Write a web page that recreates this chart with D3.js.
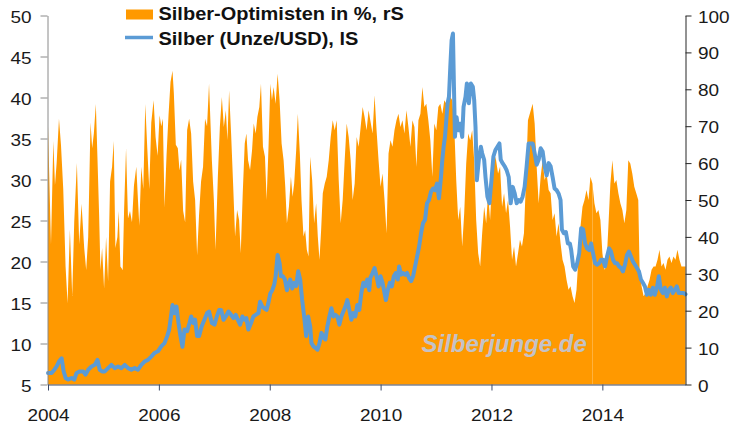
<!DOCTYPE html>
<html><head><meta charset="utf-8">
<script src="https://cdnjs.cloudflare.com/ajax/libs/d3/7.8.5/d3.min.js"></script>
<style>
html,body{margin:0;padding:0;background:#fff;}
svg{display:block;font-family:"Liberation Sans",Arial,sans-serif;}
</style></head><body>
<svg id="chart" width="730" height="427"></svg>
<script>
// ---------- data ----------
const yearTicks = [2004, 2006, 2008, 2010, 2012, 2014];
const leftTicks = [5, 10, 15, 20, 25, 30, 35, 40, 45, 50];
const rightTicks = [0, 10, 20, 30, 40, 50, 60, 70, 80, 90, 100];
const legendLabels = ["Silber-Optimisten in %, rS", "Silber (Unze/USD), lS"];
const watermark = "Silberjunge.de";
const seamYear = 2013.821;

// Silber-Optimisten in % (right scale): [decimal year, percent]
const optimists = [
[2004.0,70],[2004.054,38],[2004.096,66],[2004.126,54],[2004.156,60],[2004.198,72],[2004.234,65],[2004.275,53],[2004.317,32],[2004.353,22],
[2004.395,42],[2004.437,24],[2004.473,44],[2004.521,60],[2004.563,38],[2004.605,49],[2004.653,37],[2004.689,31],[2004.725,40],[2004.767,71],
[2004.797,64],[2004.827,68],[2004.863,76],[2004.893,61],[2004.922,46],[2004.946,31],[2004.976,37],[2005.012,26],[2005.048,40],[2005.084,28],
[2005.12,55],[2005.156,59],[2005.186,66],[2005.216,37],[2005.252,40],[2005.276,47],[2005.306,32],[2005.348,31],[2005.372,47],[2005.408,64],
[2005.443,45],[2005.479,47],[2005.515,44],[2005.551,54],[2005.593,59],[2005.623,50],[2005.647,43],[2005.683,59],[2005.719,53],[2005.755,76],
[2005.791,64],[2005.827,53],[2005.863,71],[2005.905,77],[2005.941,67],[2005.977,62],[2006.013,73],[2006.043,70],[2006.072,72],[2006.102,48],
[2006.138,62],[2006.174,73],[2006.21,82],[2006.246,85],[2006.27,79],[2006.306,65],[2006.342,64],[2006.372,58],[2006.402,61],[2006.438,47],
[2006.474,44],[2006.51,69],[2006.546,72],[2006.582,68],[2006.618,55],[2006.654,50],[2006.69,35],[2006.725,46],[2006.761,55],[2006.797,59],
[2006.833,72],[2006.869,70],[2006.905,81.5],
[2006.956,60.8],[2006.992,50],[2007.022,36.5],[2007.064,56.3],[2007.1,69.8],[2007.136,77.9],[2007.172,69.8],[2007.208,74.3],[2007.237,66.2],
[2007.267,79.7],[2007.303,68],[2007.339,54.5],[2007.375,40.1],[2007.411,47.3],[2007.447,44.6],[2007.477,35.6],[2007.513,51.8],[2007.549,65.3],
[2007.579,68],[2007.609,60.8],[2007.645,58.1],[2007.681,63.5],[2007.711,70.7],[2007.747,68],[2007.777,72.5],[2007.812,75.2],[2007.842,81.5],
[2007.878,64.4],[2007.914,61.7],[2007.944,50],[2007.98,65.3],[2008.01,81.5],[2008.04,77],[2008.07,80.6],[2008.106,76.1],[2008.142,84.2],
[2008.178,77],[2008.214,65.3],[2008.25,60.8],[2008.28,53.6],[2008.31,43.7],[2008.346,48.2],[2008.382,56.3],[2008.412,50.9],[2008.441,54.5],
[2008.477,63.5],[2008.507,73.4],[2008.543,62.6],[2008.573,50],[2008.609,40.1],[2008.639,41.9],[2008.669,36.5],[2008.699,34.7],[2008.729,61.7],
[2008.765,55.4],[2008.801,43.7],[2008.837,49.1],[2008.867,40.1],[2008.897,33.8],[2008.927,41.9],[2008.957,51.8],[2008.993,54.5],[2009.028,56.3],
[2009.064,60.8],[2009.1,67.1],[2009.136,71.6],[2009.172,68.9],[2009.208,71.6],[2009.244,55.4],[2009.28,43.7],[2009.316,50],[2009.352,60.8],
[2009.388,70.7],[2009.424,67.1],[2009.46,60.8],[2009.496,50],[2009.532,54.5],[2009.568,67.1],[2009.604,64.4],[2009.64,69.8],[2009.676,75.2],
[2009.711,72.5],[2009.747,68.9],[2009.783,74.3],
[2009.855,68],[2009.891,78.4],[2009.927,68.9],[2009.963,60.8],[2009.999,53.6],[2010.035,57.2],[2010.071,50],[2010.107,41],[2010.143,62.6],
[2010.179,66.2],[2010.214,64.4],[2010.25,68.9],[2010.286,71.6],[2010.322,73.4],[2010.358,69.8],[2010.394,71.6],[2010.43,68],[2010.466,74.3],
[2010.502,69.8],[2010.538,64.4],[2010.574,71.6],[2010.61,69.8],[2010.646,59],[2010.682,71.6],[2010.718,73.4],[2010.754,80.6],[2010.789,75.2],
[2010.825,76.1],[2010.861,71.6],[2010.897,66.2],[2010.933,56.3],[2010.969,70.7],[2011.005,68.9],[2011.041,75.2],[2011.077,76.1],[2011.113,73.4],
[2011.149,77],[2011.185,76.1],[2011.221,77],[2011.257,77.9],[2011.293,77],[2011.329,69.8],[2011.364,55.4],[2011.4,44.6],[2011.436,48.2],
[2011.472,37.4],[2011.508,46.4],[2011.544,59.9],[2011.58,68],[2011.616,66.2],[2011.652,68.9],[2011.688,60.8],[2011.724,44.6],[2011.76,35.6],
[2011.796,32],[2011.832,41],[2011.868,48.2],[2011.904,43.7],[2011.939,51.8],[2011.975,44.6],[2012.011,55.4],[2012.047,62.6],[2012.083,60.8],
[2012.119,57.2],[2012.155,59],[2012.191,48.2],[2012.227,51.8],[2012.263,46.4],[2012.299,50],[2012.335,42.8],[2012.371,33.8],[2012.407,37.4],
[2012.443,32],[2012.479,35.6],[2012.514,39.2],[2012.55,37.4],[2012.586,41],[2012.622,55.4],[2012.658,71.6],
[2012.743,76.1],[2012.779,70.7],[2012.815,59],[2012.851,49.1],[2012.887,56.3],[2012.923,60.8],[2012.959,55.4],[2012.995,57.2],[2013.031,52.7],
[2013.067,51.8],[2013.102,44.6],[2013.138,46.4],[2013.174,40.1],[2013.21,43.7],[2013.246,38.3],[2013.282,33.8],[2013.318,32],[2013.354,28.4],
[2013.39,25.7],[2013.426,26.6],[2013.462,23.9],[2013.498,22.1],[2013.534,25.7],[2013.57,34.7],[2013.606,42.8],[2013.642,48.2],[2013.678,50],
[2013.714,52.7],[2013.75,50],[2013.785,56.3],[2013.821,54.5],[2013.857,49.1],[2013.893,46.4],[2013.929,47.3],[2013.965,44.6],[2014.001,35.6],
[2014.037,31.1],[2014.073,32],[2014.109,42.8],[2014.145,54.5],[2014.181,60.8],[2014.217,54.5],[2014.253,55.4],[2014.289,51.8],[2014.325,49.1],
[2014.361,47.3],[2014.397,43.7],[2014.433,47.3],[2014.468,60.8],[2014.504,59.9],[2014.54,57.2],[2014.576,53.6],[2014.612,51.8],[2014.648,50],
[2014.672,31.1],[2014.708,26.6],[2014.744,23.9],[2014.78,24.8],[2014.816,26.6],[2014.852,28.4],[2014.888,31.1],[2014.924,32],[2014.96,32],
[2014.995,33.8],[2015.031,36.5],[2015.067,32],[2015.103,32.9],[2015.139,31.1],[2015.175,33.8],[2015.211,34.7],[2015.247,32.9],[2015.283,34.7],
[2015.319,33.8],[2015.355,36.5],[2015.391,33.8],[2015.427,32],[2015.463,32],[2015.5,32]
];

// Silber (Unze/USD) (left scale): [decimal year, USD]
const silver = [
[2004.0,6.4],[2004.066,6.4],[2004.114,6.8],[2004.156,7.2],[2004.198,7.8],[2004.246,8.2],[2004.282,6.6],[2004.318,5.8],[2004.365,5.6],[2004.425,5.8],
[2004.473,5.6],[2004.515,6.4],[2004.575,6.6],[2004.635,6.6],[2004.677,6.2],[2004.725,6.8],[2004.785,7.2],[2004.845,7.4],[2004.893,8.0],[2004.934,6.8],
[2004.976,6.6],[2005.024,6.6],[2005.084,7.0],[2005.144,7.4],[2005.204,7.0],[2005.264,7.2],[2005.324,7.0],[2005.384,7.4],[2005.444,7.0],[2005.504,6.8],
[2005.563,7.0],[2005.623,6.8],[2005.683,7.4],[2005.743,7.8],[2005.803,8.0],[2005.863,8.4],[2005.923,8.85],[2005.983,9.05],[2006.043,9.65],[2006.102,10.05],
[2006.15,10.9],[2006.186,11.7],[2006.21,12.9],[2006.246,14.7],[2006.282,13.7],[2006.318,14.5],[2006.354,12.5],[2006.39,10.9],[2006.426,9.6],[2006.462,11.7],
[2006.51,11.5],[2006.552,12.5],[2006.582,13.3],[2006.618,12.5],[2006.654,12.9],[2006.689,10.9],[2006.725,10.9],[2006.773,12.1],[2006.821,12.9],[2006.869,13.7],
[2006.905,13.9],
[2006.956,12.5],[2007.004,12.3],[2007.046,13.3],[2007.088,14.1],[2007.124,14.1],[2007.166,12.9],[2007.208,13.3],[2007.255,13.9],[2007.303,13.5],
[2007.345,13.1],[2007.387,13.5],[2007.423,12.9],[2007.465,12.3],[2007.507,13.3],[2007.543,12.9],[2007.579,13.1],[2007.615,11.7],[2007.663,12.5],
[2007.705,13.3],[2007.747,13.5],[2007.795,13.7],[2007.825,15.1],[2007.866,14.5],[2007.902,14.3],[2007.944,14.1],[2007.974,14.9],[2008.01,16.1],
[2008.046,16.5],[2008.082,17.2],[2008.106,18.2],[2008.142,20.8],[2008.178,19.8],[2008.202,18.2],[2008.238,18.2],[2008.274,17.8],[2008.31,16.5],
[2008.346,17.4],[2008.37,17.8],[2008.406,16.7],[2008.442,17.4],[2008.477,17.0],[2008.513,18.8],[2008.549,17.8],[2008.585,15.3],[2008.621,13.3],
[2008.657,10.9],[2008.693,13.3],[2008.729,12.1],[2008.753,10.05],[2008.789,9.65],[2008.825,9.45],[2008.861,9.25],[2008.897,10.05],[2008.933,11.3],
[2008.969,10.7],[2009.005,10.5],[2009.04,12.1],[2009.076,13.3],[2009.112,14.3],[2009.148,13.3],[2009.184,13.5],[2009.22,13.3],[2009.256,12.3],
[2009.292,13.3],[2009.328,13.9],[2009.364,14.5],[2009.4,15.3],[2009.436,14.1],[2009.472,12.9],[2009.508,13.7],[2009.544,13.3],[2009.58,14.7],
[2009.616,14.1],[2009.651,16.1],[2009.687,17.4],[2009.723,17.0],[2009.759,17.8],[2009.795,16.5],
[2009.813,17.97],[2009.855,18.6],[2009.891,19.2],[2009.927,18.2],[2009.963,16.96],[2009.999,18.2],[2010.035,17.4],[2010.071,16.15],[2010.095,15.3],
[2010.131,16.55],[2010.167,17.4],[2010.203,16.96],[2010.238,18.2],[2010.274,18.6],[2010.31,17.8],[2010.334,19.4],[2010.37,18.4],[2010.406,18.6],
[2010.442,18.4],[2010.478,18.6],[2010.514,17.97],[2010.55,17.6],[2010.586,18.2],[2010.622,19.4],[2010.658,20.6],[2010.694,21.8],[2010.73,23.45],
[2010.766,24.7],[2010.802,25.1],[2010.837,27.1],[2010.873,27.5],[2010.909,28.5],[2010.945,28.9],[2010.981,28.7],[2011.017,29.5],[2011.053,27.7],
[2011.089,30.3],[2011.113,32.4],[2011.137,34],[2011.161,35.2],[2011.185,37.2],[2011.209,39.3],[2011.233,40.1],[2011.257,43.7],[2011.281,47],
[2011.305,47.8],[2011.323,41.3],[2011.341,35.2],[2011.371,37.6],[2011.4,36],[2011.436,36.8],[2011.472,35.2],[2011.496,38.85],[2011.532,40.1],
[2011.556,41.7],[2011.592,39.3],[2011.628,41.7],[2011.664,41.3],[2011.688,39.7],[2011.712,36.4],[2011.736,29.9],[2011.772,32.4],[2011.808,34],
[2011.832,33.2],[2011.868,32.4],[2011.892,30.3],[2011.927,27.9],[2011.963,27.1],[2011.999,29.9],[2012.035,32.8],[2012.071,33.6],[2012.107,34],
[2012.143,34.4],[2012.167,32.4],[2012.203,31.96],[2012.239,31.6],[2012.275,31.1],[2012.311,30.3],[2012.347,27.1],[2012.383,29.1],[2012.419,28.3],
[2012.455,27.1],[2012.491,27.5],[2012.526,27.3],[2012.562,27.9],[2012.598,29.1],[2012.634,31.6],[2012.67,34.4],
[2012.743,34.4],[2012.779,33.2],[2012.815,31.8],[2012.851,32.4],[2012.887,33.8],[2012.923,33.4],[2012.959,31.6],[2012.995,30.5],[2013.031,32],
[2013.067,31.6],[2013.103,30.3],[2013.138,28.9],[2013.174,28.7],[2013.21,28.3],[2013.246,27.5],[2013.27,23.9],[2013.306,23.45],[2013.342,23.6],
[2013.378,22.2],[2013.414,22.2],[2013.438,21.4],[2013.474,19.4],[2013.51,19.0],[2013.546,19.8],[2013.582,21],[2013.618,24.06],[2013.654,23.9],
[2013.689,22.2],[2013.725,21.6],[2013.761,21.4],[2013.797,22.2],[2013.833,21],[2013.869,19.8],[2013.905,19.6],[2013.941,19.8],[2013.977,20.2],
[2014.013,20.2],[2014.049,19.4],[2014.085,20.6],[2014.121,21.6],[2014.157,21.2],[2014.193,20.2],[2014.229,19.8],[2014.265,19.8],[2014.3,19.4],
[2014.336,19.2],[2014.372,18.8],[2014.408,19.6],[2014.444,20.8],[2014.48,21.2],[2014.516,20.6],[2014.552,20],[2014.588,19.6],[2014.624,19.2],
[2014.66,18.8],[2014.696,17.8],[2014.732,17.4],[2014.768,16.96],[2014.804,15.95],[2014.84,16.55],[2014.876,15.95],[2014.912,16.8],[2014.947,15.95],
[2014.983,16.8],[2015.019,18.2],[2015.055,16.55],[2015.091,16.15],[2015.127,16.8],[2015.163,15.75],[2015.199,16.55],[2015.235,16.8],[2015.271,16.15],
[2015.307,16.55],[2015.343,16.96],[2015.379,16.15],[2015.415,16.15],[2015.463,16.15],[2015.5,16.0]
];

// ---------- chart ----------
const svg = d3.select("#chart");
const ORANGE = "#ff9900", BLUE = "#5b9bd5";
const S = 1.15; // horizontal text stretch of the original

const x = d3.scaleLinear().domain([2004, 2015.5]).range([48, 685.5]);
const yL = d3.scaleLinear().domain([5, 50]).range([384.5, 15.5]);
const yR = d3.scaleLinear().domain([0, 100]).range([384.5, 15.5]);

// area (split at a data seam)
const area = d3.area().x(d => x(d[0])).y0(yR(0)).y1(d => yR(d[1]));
const parts = [optimists.filter(d => d[0] <= seamYear), optimists.filter(d => d[0] >= seamYear)];
svg.append("g").selectAll("path").data(parts).join("path")
  .attr("d", area).attr("fill", ORANGE);

// watermark
svg.append("text")
  .attr("x", 421.5).attr("y", 351.5)
  .attr("font-size", 24).attr("font-weight", "bold").attr("font-style", "italic")
  .attr("fill", "#c4c2c6")
  .text(watermark);

// silver line
const line = d3.line().x(d => x(d[0])).y(d => yL(d[1]));
svg.append("path").datum(silver)
  .attr("d", line).attr("fill", "none")
  .attr("stroke", BLUE).attr("stroke-width", 4)
  .attr("stroke-linejoin", "round").attr("stroke-linecap", "round");

// left axis
const gL = svg.append("g").attr("transform", "translate(47.5,0)")
  .call(d3.axisLeft(yL).tickValues(leftTicks).tickSize(7).tickSizeOuter(0).tickFormat(d3.format("d")));
gL.attr("font-size", 16.5).attr("font-family", null);
gL.select(".domain").attr("stroke", "#8a8a8a");
gL.selectAll(".tick line").attr("stroke", "#8a8a8a");
gL.selectAll(".tick text").attr("x", -16 / S).attr("dy", 6.5)
  .attr("transform", `scale(${S},1)`).attr("fill", "#1a1a1a");

// right axis
const gR = svg.append("g").attr("transform", "translate(685.5,0)")
  .call(d3.axisRight(yR).tickValues(rightTicks).tickSize(6).tickSizeOuter(0).tickFormat(d3.format("d")));
gR.attr("font-size", 16.5).attr("font-family", null);
gR.select(".domain").attr("stroke", "#262626");
gR.selectAll(".tick line").attr("stroke", "#262626");
gR.selectAll(".tick text").attr("x", 12.5 / S).attr("dy", 6.5)
  .attr("transform", `scale(${S},1)`).attr("fill", "#1a1a1a");

// bottom axis
const gB = svg.append("g").attr("transform", "translate(0,384.5)")
  .call(d3.axisBottom(x).tickValues(yearTicks).tickSize(6).tickSizeOuter(0).tickFormat(d3.format("d")));
gB.attr("font-size", 16.5).attr("font-family", null);
gB.select(".domain").attr("stroke", "#3d4b68");
gB.selectAll(".tick line").attr("stroke", "#3d4b68");
gB.selectAll(".tick text").attr("y", 36.5).attr("dy", 0)
  .attr("transform", `scale(${S},1)`).attr("fill", "#1a1a1a");

// legend
const lg = svg.append("g");
lg.append("rect").attr("x", 126).attr("y", 9.5).attr("width", 27).attr("height", 10).attr("fill", ORANGE);
lg.append("line").attr("x1", 125).attr("x2", 153).attr("y1", 37.5).attr("y2", 37.5)
  .attr("stroke", BLUE).attr("stroke-width", 3.5);
lg.selectAll("text.lbl").data(legendLabels).join("text")
  .attr("class", "lbl")
  .attr("transform", (d, i) => `translate(158.5,${i === 0 ? 19.5 : 45}) scale(1.08,1)`)
  .attr("font-size", 18.5).attr("font-weight", "bold").attr("fill", "#111")
  .text(d => d);
</script>
</body></html>
